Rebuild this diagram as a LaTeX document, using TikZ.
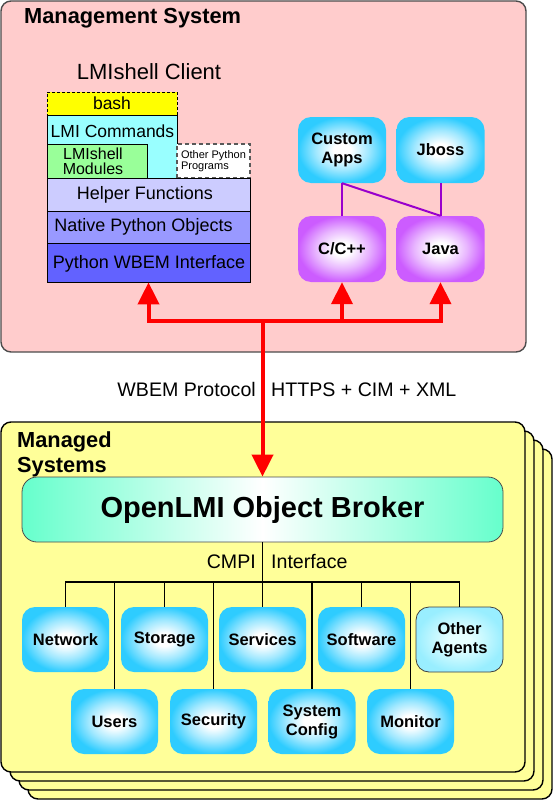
\documentclass[tikz,border=0pt]{standalone}
\usepackage{fontspec}
\setmainfont{Liberation Sans}
\usetikzlibrary{arrows.meta}
\definecolor{mgmtpink}{HTML}{FFCCCC}
\definecolor{mgdyellow}{HTML}{FFFF99}
\definecolor{bashY}{HTML}{FFFF00}
\definecolor{lmiC}{HTML}{99FFFF}
\definecolor{modG}{HTML}{99FF99}
\definecolor{helpL}{HTML}{CCCCFF}
\definecolor{nativeL}{HTML}{9999FF}
\definecolor{wbemB}{HTML}{6262FF}
\definecolor{cyanE}{HTML}{2ECCFF}
\definecolor{purpE}{HTML}{CC5CFF}
\definecolor{brokerG}{HTML}{66FFCC}
\definecolor{otherE}{HTML}{99EEFF}
\definecolor{otherI}{HTML}{E6FFFF}
\definecolor{purpL}{HTML}{9900CC}
\colorlet{cyanM}{cyanE!45!white}
\colorlet{purpM}{purpE!45!white}
\colorlet{otherM}{otherE!50!otherI}
\pgfdeclareradialshading{cyanshade}{\pgfpointorigin}{color(0bp)=(white); color(5bp)=(white); color(15bp)=(cyanM); color(25bp)=(cyanE); color(50bp)=(cyanE)}
\pgfdeclareradialshading{purpshade}{\pgfpointorigin}{color(0bp)=(white); color(5bp)=(white); color(15bp)=(purpM); color(25bp)=(purpE); color(50bp)=(purpE)}
\pgfdeclareradialshading{othershade}{\pgfpointorigin}{color(0bp)=(otherI); color(6bp)=(otherI); color(16bp)=(otherM); color(25bp)=(otherE); color(50bp)=(otherE)}
\newcommand\fz[2]{\fontsize{#1}{#2}\selectfont}
\begin{document}
\begin{tikzpicture}[x=1pt,y=-1pt,
  stk/.style={draw=black, line width=0.8pt, inner sep=0pt},
  stktxt/.style={inner sep=0pt, font=\fz{18}{20}},
  abox/.style={rounded corners=13pt, inner sep=0pt, align=center, font=\bfseries\fz{16.5}{19}},
  cyanbox/.style={abox, shading=cyanshade, minimum width=87pt, minimum height=65pt},
  purpbox/.style={abox, shading=purpshade, minimum width=88pt, minimum height=66pt},
  txt/.style={inner sep=0pt, font=\fz{19.6}{21}},
  ttl/.style={inner sep=0pt, font=\bfseries\fz{21.8}{25}},
  redline/.style={draw=red, line width=4pt},
  redtip/.style={-{Triangle[width=21pt,length=22pt]}},
  busline/.style={draw=black, line width=1.5pt},
  purpline/.style={draw=purpL, line width=2pt},
  container/.style={rounded corners=10pt, line width=1.4pt},
]
\path[use as bounding box] (0,0) rectangle (553,800);

% containers
\draw[container, fill=mgmtpink, draw=black!70] (1,1) rectangle (526,352);
\foreach \d in {27,18,9,0}
  \draw[container, fill=mgdyellow, draw=black] (1+\d,422+\d) rectangle (525+\d,772+\d);

% titles
\node[ttl, anchor=base west] (mgmttitle) at (24,23.5) {Management System};
\node[ttl, anchor=base west] (managed1) at (17,447) {Managed};
\node[ttl, anchor=base west] (managed2) at (17,472) {Systems};
\node[inner sep=0pt, font=\fz{22}{24}, anchor=base] (lmiclient) at (149,79) {LMIshell Client};

% LMIshell stack
\node[stk, fill=lmiC, minimum width=130pt, minimum height=63pt] (lmicmd) at (112,146.5) {};
\node[inner sep=0pt, font=\fz{17.5}{20}] (lmicmdtxt) at (112.5,131) {LMI Commands};
\node[stk, fill=modG, minimum width=100pt, minimum height=34pt] (modules) at (97,161) {};
\node[inner sep=0pt, align=center, font=\fz{16}{15}] (modulestxt) at (93,161) {LMIshell\\Modules};
\node[stk, fill=bashY, dash pattern=on 3pt off 2pt, minimum width=130pt, minimum height=23pt, font=\fz{17.5}{20}] (bash) at (112,103.5) {bash};
\node[stk, fill=white, draw=black!65, line width=1.6pt, dash pattern=on 4pt off 3pt, minimum width=73pt, minimum height=34pt, align=left, font=\fz{11}{10.5}] (otherpy) at (213.5,161) {Other Python\\Programs};
\node[stk, fill=helpL, minimum width=203pt, minimum height=33pt] (helper) at (148.5,194.5) {};
\node[stktxt] (helpertxt) at (145,195) {Helper Functions};
\node[stk, fill=nativeL, minimum width=203pt, minimum height=32pt] (native) at (148.5,227) {};
\node[stktxt] (nativetxt) at (143.5,226.5) {Native Python Objects};
\node[stk, fill=wbemB, minimum width=203pt, minimum height=39pt] (wbem) at (148.5,262.5) {};
\node[stktxt] (wbemtxt) at (149,263.5) {Python WBEM Interface};

% right apps
\node[cyanbox, minimum width=88pt, minimum height=66pt] (custom) at (342,150) {Custom\\Apps};
\node[cyanbox, minimum width=88pt, minimum height=66pt] (jboss) at (440.5,150) {Jboss};
\node[purpbox] (ccpp) at (342,249) {C/C++};
\node[purpbox] (java) at (440.5,249) {Java};
\draw[purpline] (custom.south) -- (ccpp.north);
\draw[purpline] (custom.south) -- (java.north);
\draw[purpline] (jboss.south) -- (java.north);

% broker
\node[draw=black!70, line width=0.8pt, rounded corners=15pt, minimum width=481pt, minimum height=65pt,
      left color=brokerG, right color=brokerG, middle color=white, inner sep=0pt,
      font=\bfseries\fz{29}{32}] (broker) at (262.5,509.5) {OpenLMI Object Broker};

% agents
\node[cyanbox] (network) at (65.5,639.5) {Network};
\node[cyanbox] (storage) at (164.5,639.5) {Storage};
\node[cyanbox] (services) at (262.5,639.5) {Services};
\node[cyanbox] (software) at (361.5,639.5) {Software};
\node[abox, draw=black!75, line width=0.8pt, shading=othershade, minimum width=87pt, minimum height=65pt] (otherag) at (459.5,639.5) {Other\\Agents};
\node[cyanbox] (users) at (114.5,721.5) {Users};
\node[cyanbox] (security) at (213.5,721.5) {Security};
\node[cyanbox] (sysconf) at (312,721.5) {System\\Config};
\node[cyanbox] (monitor) at (410.5,721.5) {Monitor};

% CMPI bus
\coordinate (bus) at (0,582);
\draw[busline] (broker.south) -- (services.north);
\draw[busline] (network.north) -- (network.north |- bus) -- (otherag.north |- bus) -- (otherag.north);
\foreach \n in {users,storage,security,sysconf,software,monitor}
  \draw[busline] (\n.north |- bus) -- (\n.north);

% labels
\node[txt, anchor=base east] (wbemproto) at (256,396) {WBEM Protocol};
\node[txt, anchor=base west] (https) at (271,396) {HTTPS + CIM + XML};
\node[txt, anchor=base east] (cmpi) at (256,568) {CMPI};
\node[txt, anchor=base west] (intf) at (271,568) {Interface};

% red WBEM arrows
\coordinate (hub) at (263,321);
\draw[redline, {Triangle[width=21pt,length=22pt]}-{Triangle[width=21pt,length=22pt]}]
  (wbem.south) -- (wbem.south |- hub) -- (java.south |- hub) -- (java.south);
\draw[redline, redtip] (ccpp.south |- hub) -- (ccpp.south);
\draw[redline, redtip] (broker.north |- hub) -- (broker.north);
\end{tikzpicture}
\end{document}
